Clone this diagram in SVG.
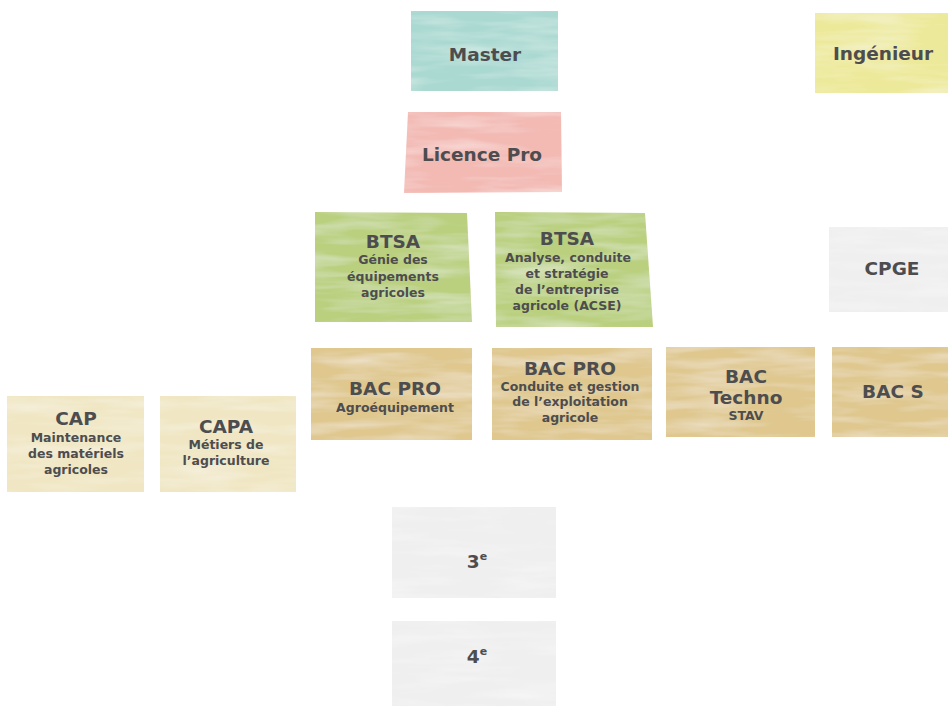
<svg xmlns="http://www.w3.org/2000/svg" width="948" height="706" viewBox="0 0 948 706">
<style>
.t{font-family:"DejaVu Sans","Liberation Sans",sans-serif;font-weight:700;fill:#4d4d4f;text-anchor:middle}
.b{font-size:18.5px}
.s{font-size:12.5px}
.teal{fill:#a9d9d1}.pink{fill:#f3b9b3}.yel{fill:#ede99a}.grn{fill:#bad07f}.crm{fill:#f0e6c3}.tan{fill:#dfc78e}.gry{fill:#efefef}
.p{filter:url(#paper)}
</style>
<defs>
<filter id="paper" x="0" y="0" width="1" height="1">
<feTurbulence type="fractalNoise" baseFrequency="0.012 0.09" numOctaves="3" seed="4" result="n"/>
<feColorMatrix in="n" type="matrix" values="0 0 0 0 1  0 0 0 0 1  0 0 0 0 1  0 0 0 -0.7 0.42" result="w"/>
<feComposite in="w" in2="SourceGraphic" operator="in" result="wc"/>
<feMerge><feMergeNode in="SourceGraphic"/><feMergeNode in="wc"/></feMerge>
</filter>
</defs>
<rect width="948" height="706" fill="#fff"/>
<g id="connectors"/>
<g id="master"><rect class="teal p" x="411" y="11" width="147" height="80"/><text class="t b" x="485" y="61">Master</text></g>
<g id="ingenieur"><rect class="yel p" x="815" y="13" width="133" height="80"/><text class="t b" x="883" y="60">Ingénieur</text></g>
<g id="licence-pro"><polygon class="pink p" points="408,112 561,112 562,192 404,193"/><text class="t b" x="482" y="161">Licence Pro</text></g>
<g id="btsa-gea"><polygon class="grn p" points="315,212 467,213 472,322 315,322"/><text class="t b" x="393" y="248">BTSA</text><text class="t s" x="393" y="264">Génie des</text><text class="t s" x="393" y="281">équipements</text><text class="t s" x="393" y="297">agricoles</text></g>
<g id="btsa-acse"><polygon class="grn p" points="495,212 645,213 653,327 496,327"/><text class="t b" x="567" y="245">BTSA</text><text class="t s" x="568" y="262">Analyse, conduite</text><text class="t s" x="567" y="278">et stratégie</text><text class="t s" x="567" y="294">de l’entreprise</text><text class="t s" x="567" y="310">agricole (ACSE)</text></g>
<g id="cpge"><rect class="gry p" x="829" y="227" width="119" height="85"/><text class="t b" x="892" y="275">CPGE</text></g>
<g id="cap"><rect class="crm p" x="7" y="396" width="137" height="96"/><text class="t b" x="76" y="425">CAP</text><text class="t s" x="76" y="442">Maintenance</text><text class="t s" x="76" y="458">des matériels</text><text class="t s" x="76" y="474">agricoles</text></g>
<g id="capa"><rect class="crm p" x="160" y="396" width="136" height="96"/><text class="t b" x="226" y="433">CAPA</text><text class="t s" x="226" y="449">Métiers de</text><text class="t s" x="226" y="465">l’agriculture</text></g>
<g id="bacpro-agro"><rect class="tan p" x="311" y="348" width="161" height="92"/><text class="t b" x="395" y="395">BAC PRO</text><text class="t s" x="395" y="412">Agroéquipement</text></g>
<g id="bacpro-cgea"><rect class="tan p" x="492" y="348" width="160" height="92"/><text class="t b" x="570" y="375">BAC PRO</text><text class="t s" x="570" y="391">Conduite et gestion</text><text class="t s" x="570" y="406">de l’exploitation</text><text class="t s" x="570" y="422">agricole</text></g>
<g id="bac-techno"><rect class="tan p" x="666" y="347" width="149" height="90"/><text class="t b" x="746" y="383">BAC</text><text class="t b" x="746" y="404">Techno</text><text class="t s" x="746" y="420">STAV</text></g>
<g id="bac-s"><rect class="tan p" x="832" y="347" width="116" height="90"/><text class="t b" x="893" y="398">BAC S</text></g>
<g id="troisieme"><rect class="gry p" x="392" y="507" width="164" height="91"/><text class="t b" x="477" y="568">3<tspan font-size="11" dy="-8">e</tspan></text></g>
<g id="quatrieme"><rect class="gry p" x="392" y="621" width="164" height="85"/><text class="t b" x="477" y="663">4<tspan font-size="11" dy="-8">e</tspan></text></g>
</svg>
